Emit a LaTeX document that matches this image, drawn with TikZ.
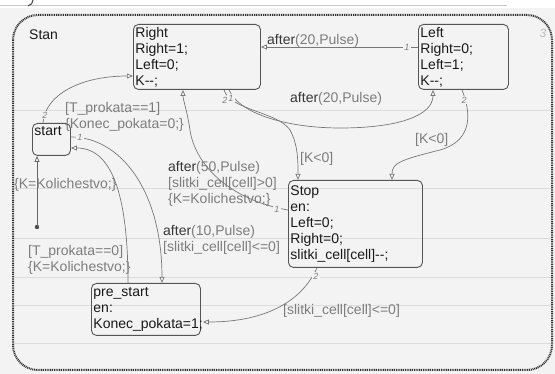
\documentclass[tikz,border=0pt]{standalone}
\usepackage{fontspec}
\setmainfont{Liberation Sans}[Ligatures=TeXOff]
\usetikzlibrary{arrows.meta,calc}

\definecolor{boxcolor}{RGB}{85,85,85}
\definecolor{textcolor}{RGB}{25,25,25}
\definecolor{labelcolor}{RGB}{125,125,125}
\definecolor{keycolor}{RGB}{55,55,55}
\definecolor{linecolor}{RGB}{120,120,120}
\definecolor{bgcolor}{RGB}{243,243,243}
\definecolor{scancolor}{RGB}{220,220,220}

\newcommand{\kw}[1]{\textcolor{keycolor}{#1}}

\begin{document}
\begin{tikzpicture}[x=1pt,y=-1pt,
    state/.style={draw=boxcolor, line width=0.9pt, rounded corners=5pt, anchor=north west,
      align=left, inner sep=2pt, text=textcolor, font=\fontsize{14}{16}\selectfont},
    trans/.style={draw=linecolor, line width=0.7pt, -{Triangle[open,length=6pt,width=5pt]}},
    guard/.style={anchor=north west, align=left, inner sep=0pt, text=labelcolor,
      font=\fontsize{14}{16}\selectfont},
    prio/.style={inner sep=1pt, fill=bgcolor, text=labelcolor, font=\fontsize{9}{10}\selectfont\itshape}]
        \useasboundingbox (0,0) rectangle (555,374);

        % Background and chart frame
        \fill[white] (0,0) rectangle (555,374);
        \fill[bgcolor] (0,8) rectangle (555,374);
        \draw[gray!45, line width=1pt] (0,6) -- (507,6);
        \draw[black!75, line width=1pt] (33,0) .. controls (33,3) and (31,5) .. (28,6);
        \foreach \y in {110,188,238,277,305,343}
            \draw[scancolor, line width=0.6pt] (14,\y) -- (551,\y);
        \draw[black!80, line width=2pt, dash pattern=on 1pt off 0.8pt, rounded corners=25pt]
            (13,15) rectangle (552,370);
        \node[anchor=west, inner sep=0pt, text=textcolor, font=\fontsize{14}{16}\selectfont] (stan) at (29,35) {Stan};
        \node[inner sep=0pt, text=gray!55, font=\fontsize{12}{14}\selectfont\itshape] (chartno) at (543,33) {3};

        % States
        \node[state, text width=123pt, minimum height=65pt] (right) at (133,24) {Right\\Right=1;\\Left=0;\\K--;};
        \node[state, text width=86pt, minimum height=65pt] (left) at (418,24) {Left\\Right=0;\\Left=1;\\K--;};
        \node[state, text width=34pt, minimum height=32pt] (start) at (32,123) {start\\\mbox{}};
        \node[state, text width=130pt, minimum height=87pt] (stop) at (288,180)
            {Stop\\en:\\Left=0;\\Right=0;\\slitki\_cell[cell]--;};
        \node[state, text width=105pt, minimum height=52pt] (prestart) at (91,283)
            {pre\_start\\en:\\Konec\_pokata=1;};

        % Default transition
        \coordinate (init) at (37,227);
        \fill[black!70] (init) circle (2.2pt);
        \draw[trans, draw=black!60] (init) -- ($(start.south west)+(5,0)$);

        % Transitions
        \draw[trans] ($(left.north west)+(0,23)$) -- ($(right.north east)+(0,23)$);
        \draw[trans] ($(right.south west)+(96,0)$) .. controls (240,115) and (290,128) .. (340,128)
            .. controls (400,128) and (433,115) .. ($(left.south west)+(15,0)$);
        \draw[trans] ($(right.south west)+(91,0)$) .. controls (230,110) and (278,112) .. (290,130)
            .. controls (298,145) and (298,160) .. ($(stop.north west)+(10,0)$);
        \draw[trans] ($(left.south west)+(44,0)$) .. controls (470,110) and (475,140) .. (440,150)
            .. controls (400,160) and (392,163) .. ($(stop.north west)+(104,0)$);
        \draw[trans] ($(stop.north west)+(0,30)$) .. controls (230,200) and (195,165) .. (190,130)
            .. controls (187,110) and (183,100) .. ($(right.south west)+(50,0)$);
        \draw[trans] ($(start.north west)+(11,0)$) .. controls (45,95) and (80,76) .. ($(right.north west)+(0,52)$);
        \draw[trans] ($(start.north east)+(0,14)$) .. controls (120,137) and (162,190) .. ($(prestart.north west)+(71,0)$);
        \draw[trans] ($(prestart.north west)+(37,0)$) .. controls (128,190) and (110,148) .. ($(start.north east)+(0,25)$);
        \draw[trans] ($(stop.south west)+(29,0)$) .. controls (300,305) and (260,322) .. ($(prestart.north east)+(2,39)$);

        % Labels
        \node[guard] (g1) at (267,34) {\kw{after}(20,Pulse)};
        \node[guard] (g2) at (290,92) {\kw{after}(20,Pulse)};
        \node[guard] (g3) at (300,152) {[K<0]};
        \node[guard] (g4) at (415,133) {[K<0]};
        \node[guard] (g5) at (65,102) {[T\_prokata==1]\\\{Konec\_pokata=0;\}};
        \node[guard] (g6) at (14,178) {\{K=Kolichestvo;\}};
        \node[guard] (g7) at (168,161) {\kw{after}(50,Pulse)\\{}[slitki\_cell[cell]>0]\\\{K=Kolichestvo;\}};
        \node[guard] (g8) at (163,225) {\kw{after}(10,Pulse)\\{}[slitki\_cell[cell]<=0]};
        \node[guard] (g9) at (28,245) {[T\_prokata==0]\\\{K=Kolichestvo;\}};
        \node[guard] (g10) at (283,304) {[slitki\_cell[cell]<=0]};

        % Priorities
        \node[prio] (p1) at (407,47) {1};
        \node[prio] (p2) at (225,100) {2};
        \node[prio] (p3) at (231,98) {1};
        \node[prio] (p4) at (45,115) {2};
        \node[prio] (p5) at (80,137) {1};
        \node[prio] (p6) at (277,209) {1};
        \node[prio] (p7) at (464,100) {2};
        \node[prio] (p8) at (316,276) {2};
    \end{tikzpicture}
\end{document}
